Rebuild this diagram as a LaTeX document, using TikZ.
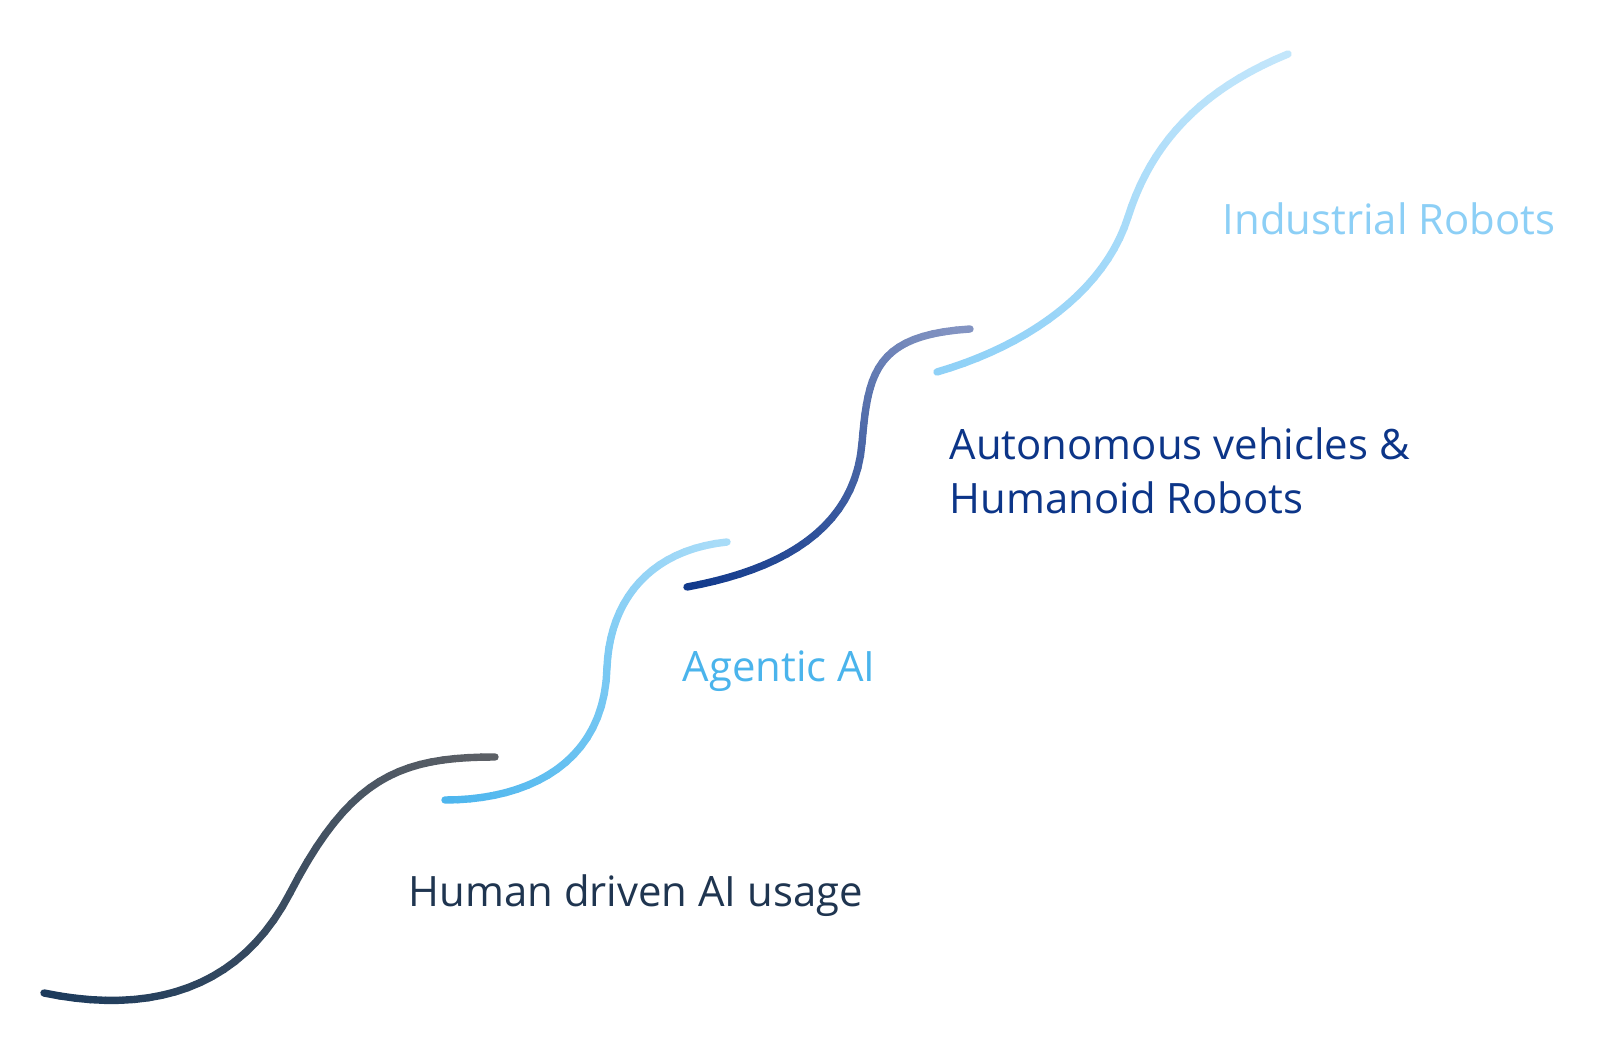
\documentclass[tikz,border=0pt]{standalone}
\usepackage{fontspec}
\setmainfont{Open Sans}
\usepackage{tikz}

\definecolor{slatelo}{HTML}{1B3A5C}
\definecolor{slatehi}{HTML}{5C6066}
\definecolor{skylo}{HTML}{4BB5EE}
\definecolor{skyhi}{HTML}{A8DCF8}
\definecolor{navylo}{HTML}{0E378A}
\definecolor{navyhi}{HTML}{8394C2}
\definecolor{palelo}{HTML}{8DD0F7}
\definecolor{palehi}{HTML}{C2E6FB}
\definecolor{humantext}{HTML}{1F3550}
\definecolor{agentictext}{HTML}{4AB4EC}
\definecolor{autotext}{HTML}{0C3588}
\definecolor{industrytext}{HTML}{8CCFF6}

\tikzset{
    stepline/.style={line width=2.1pt, line cap=round},
    steplabel/.style={anchor=base west, inner sep=0pt, align=left,
        font=\fontsize{11.9}{15.4}\selectfont}
}

% S-shaped step: two curve pieces, coloured from #8 (start) to #9 (end)
\newcommand{\gradcurve}[9]{%
    \path #1 .. controls #2 and #3 .. #4
        \foreach \k [evaluate=\k as \tk using \k/20] in {0,...,20} {coordinate[pos=\tk] (ga\k)};
    \path #4 .. controls #5 and #6 .. #7
        \foreach \k [evaluate=\k as \tk using \k/20] in {0,...,20} {coordinate[pos=\tk] (gb\k)};
    \foreach \k [remember=\k as \kk (initially 0), evaluate=\k as \m using int(100-2.5*\k)] in {1,...,20}
        \draw[stepline, #8!\m!#9] (ga\kk) -- (ga\k);
    \foreach \k [remember=\k as \kk (initially 0), evaluate=\k as \m using int(50-2.5*\k)] in {1,...,20}
        \draw[stepline, #8!\m!#9] (gb\kk) -- (gb\k);
}

\begin{document}
\begin{tikzpicture}[x=0.01cm, y=-0.01cm]
    \fill[white] (0,0) rectangle (1600,1037);
    \useasboundingbox (0,0) rectangle (1600,1037);

    % steps
    \gradcurve{(44,993)}{(150,1015)}{(240,990)}{(290,893)}{(350,777)}{(400,757)}{(495,757)}{slatelo}{slatehi}
    \gradcurve{(445,800)}{(530,800)}{(605,762)}{(607,667)}{(610,600)}{(650,550)}{(727,542)}{skylo}{skyhi}
    \gradcurve{(687,587)}{(780,570)}{(855,530)}{(862,443)}{(868,373)}{(875,335)}{(970,329)}{navylo}{navyhi}
    \gradcurve{(937,372)}{(1030,345)}{(1105,290)}{(1128,217)}{(1151,144)}{(1200,90)}{(1288,54)}{palelo}{palehi}

    % labels
    \node[steplabel, text=humantext] (human) at (408,906) {Human driven AI usage};
    \node[steplabel, text=agentictext] (agentic) at (682,682) {Agentic AI};
    \node[steplabel, text=autotext] (autonomous) at (949,514) {Autonomous vehicles \&\\Humanoid Robots};
    \node[steplabel, text=industrytext] (industrial) at (1222,235) {Industrial Robots};
\end{tikzpicture}
\end{document}
